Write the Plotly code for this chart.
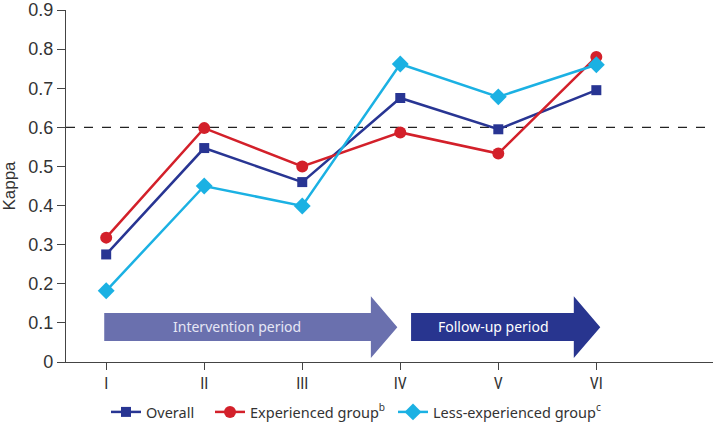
import plotly.graph_objects as go

categories = ["I", "II", "III", "IV", "V", "VI"]
overall = [0.275, 0.547, 0.460, 0.675, 0.595, 0.695]
experienced = [0.318, 0.598, 0.500, 0.587, 0.533, 0.780]
less_experienced = [0.182, 0.450, 0.399, 0.762, 0.678, 0.760]
y_ticks = [0, 0.1, 0.2, 0.3, 0.4, 0.5, 0.6, 0.7, 0.8, 0.9]
threshold = 0.6

x = list(range(len(categories)))

fig = go.Figure()
fig.add_trace(go.Scatter(x=x, y=overall, name="Overall", mode="lines+markers",
                         line=dict(color="#283593", width=2.5),
                         marker=dict(symbol="square", size=10, color="#283593"),
                         legend="legend"))
fig.add_trace(go.Scatter(x=x, y=experienced, name="Experienced group<sup>b</sup>", mode="lines+markers",
                         line=dict(color="#d3202a", width=2.5),
                         marker=dict(symbol="circle", size=12, color="#d3202a"),
                         legend="legend2"))
fig.add_trace(go.Scatter(x=x, y=less_experienced, name="Less-experienced group<sup>c</sup>", mode="lines+markers",
                         line=dict(color="#1bb1e3", width=2.5),
                         marker=dict(symbol="diamond", size=13, color="#1bb1e3"),
                         legend="legend3"))

def arrow_path(x0, xh, xt, yb0, yb1, yh0, yh1):
    ym = (yh0 + yh1) / 2
    return (f"M {x0} {yb0} L {xh} {yb0} L {xh} {yh0} L {xt} {ym} L {xh} {yh1} "
            f"L {xh} {yb1} L {x0} {yb1} Z")

shapes = [
    dict(type="line", xref="paper", x0=0, x1=1, yref="y", y0=threshold, y1=threshold,
         line=dict(color="#222222", width=1.2, dash="dash"), layer="below"),
    dict(type="path", xref="x", yref="y",
         path=arrow_path(-0.02, 2.70, 2.97, 0.054, 0.125, 0.010, 0.168),
         fillcolor="#6a70ae", line=dict(width=0)),
    dict(type="path", xref="x", yref="y",
         path=arrow_path(3.11, 4.77, 5.04, 0.054, 0.125, 0.010, 0.168),
         fillcolor="#28358f", line=dict(width=0)),
]

annotations = [
    dict(x=1.33, y=0.09, xref="x", yref="y", text="Intervention period", showarrow=False,
         font=dict(family="Noto Sans", size=14, color="#e6e7f5")),
    dict(x=3.95, y=0.09, xref="x", yref="y", text="Follow-up period", showarrow=False,
         font=dict(family="Noto Sans", size=14, color="#ffffff")),
]

legend_font = dict(family="Noto Sans", size=14.5, color="#333333")
legend_common = dict(orientation="h", xanchor="left", yanchor="middle", y=-0.142,
                     font=legend_font, itemwidth=30, bgcolor="rgba(0,0,0,0)")

fig.update_layout(
    width=715, height=429,
    margin=dict(l=66, r=2, t=10, b=67, autoexpand=False),
    paper_bgcolor="white", plot_bgcolor="white",
    shapes=shapes, annotations=annotations,
    showlegend=True,
    legend=dict(x=0.0618, **legend_common),
    legend2=dict(x=0.2226, **legend_common),
    legend3=dict(x=0.5054, **legend_common),
    xaxis=dict(range=[-0.41, 6.19], tickmode="array", tickvals=x, ticktext=categories,
               automargin=False,
               showgrid=False, zeroline=False, showline=True, linecolor="#444444", linewidth=1.2,
               ticks="outside", ticklen=7, tickcolor="#444444",
               tickfont=dict(family="Roboto Condensed, Liberation Sans Narrow, Liberation Sans", size=16, color="#333333")),
    yaxis=dict(range=[0, 0.9], tickmode="array", tickvals=y_ticks,
               ticktext=["0" if v == 0 else f"{v:.1f}" for v in y_ticks],
               automargin=False, ticklabeloverflow="allow",
               showgrid=False, zeroline=False, showline=True, linecolor="#444444", linewidth=1.2,
               ticks="outside", ticklen=8, tickcolor="#444444",
               tickfont=dict(family="Liberation Sans", size=18, color="#333333"),
               title=dict(text="Kappa", font=dict(family="Liberation Sans", size=17, color="#333333"))),
)

fig.write_html("out.html", config={"displayModeBar": False},
               post_script="document.body.style.margin='0';document.body.style.overflow='hidden';")
